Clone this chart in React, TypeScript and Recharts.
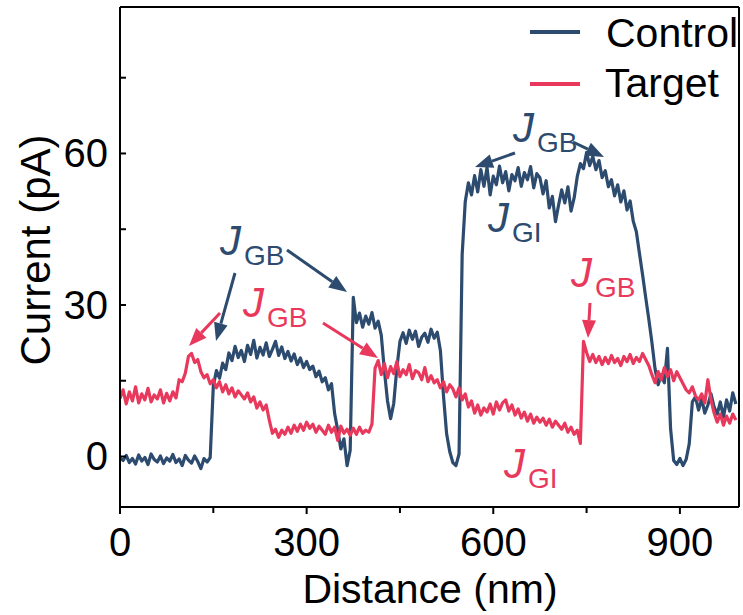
import React from "react";
import { LineChart, Line, XAxis, YAxis } from "recharts";

// sampling positions along the scan line, in nm (5 nm step)
const distance: number[] = Array.from({ length: 199 }, (_, i) => i * 5);

const control: number[] = [
  -0.3, -0.8, 0.2, -1.2, -0.4, -1.5, 0.3, -0.9, -0.2, -1.6,
  0.5, -0.6, -1.1, 0.1, -1.4, -0.3, -0.9, 0.4, -1.2, -0.5,
  -1.8, 0.2, -0.7, -1.3, 0.1, -1.0, -2.4, -0.4, -1.1, -0.2,
  14, 17, 15.5, 18.5, 17.2, 20.5, 19, 21.8, 19.6, 21,
  18.8, 22, 20.2, 23, 19.5, 21.6, 20.1, 22.5, 19.8, 21.2,
  22.8, 20, 21.7, 19.4, 20.8, 18.9, 20.3, 18.2, 19.5, 17.6,
  18.8, 17.2, 17.9, 15.8, 16.9, 14.8, 15.6, 13.2, 14.4, 8.5,
  5.2, 1.5, 3.5, -1.8, 1.2, 31.5, 26.5, 28.4, 25.6, 27.8,
  26.2, 28.5, 25.4, 26.8, 24, 17, 11, 7.5, 10.5, 17.5,
  22.8, 24.5, 22.4, 25, 23.2, 24.8, 21.8, 23.6, 24.4, 22.6,
  25.2, 23.4, 24.6, 21, 12, 4.5, 1, -1.2, -1.8, 0.5,
  40, 50.5, 54.2, 51.8, 55.6, 52.4, 56.8, 53.5, 57.2, 51.8,
  55.5, 53.8, 57.5, 54.2, 56.4, 52.6, 55.8, 54.6, 57.2, 53.5,
  56.2, 54.8, 57.4, 53.2, 56, 55.2, 52, 54.6, 49.2, 51.5,
  46.5, 49.8, 52.8, 50.2, 53.4, 48.6, 51.2, 55.4, 58, 57,
  60.2, 57.6, 59.4, 56.8, 58.6, 55.2, 56.6, 53.4, 54.8, 51.6,
  53.8, 50.4, 52.6, 48.8, 50.6, 46.6, 44.5, 40.2, 36, 31.5,
  27.2, 22.6, 17.4, 14.2, 16.2, 14.6, 21.4, 5.5, -0.8, -1.6,
  -0.4, -1.8, -0.6, 2.5, 10.8, 11.8, 9.2, 11.4, 8.6, 10.2,
  12.4, 9.8, 8.4, 10.8, 7.8, 11.2, 9, 12.6, 10.4,
];

const target: number[] = [
  11.5, 13.2, 10.4, 12.8, 11, 13.8, 10.6, 12.4, 11.2, 13.5,
  10.8, 12.2, 11.4, 13.2, 10.6, 12.5, 11, 12.8, 11.6, 15.2,
  14.8, 16.5, 19.8, 20.4, 18.6, 19.2, 16.8, 15.6, 16.2, 14.4,
  15.2, 13.6, 14.8, 12.8, 14.2, 12.4, 13.6, 11.8, 13, 12.2,
  11.4, 12.6, 10.8, 11.8, 9.6, 10.8, 9.2, 10.2, 7.2, 4.6,
  5.4, 3.8, 5.2, 4.4, 5.8, 4.6, 6.2, 5, 6.4, 5.2,
  6.8, 5.6, 6.4, 4.8, 6, 5.2, 4.4, 6.2, 4.8, 5.8,
  3.2, 6, 4.6, 5.4, 4.2, 5.6, 4.4, 5.8, 4.6, 5.2,
  4.8, 6.4, 17.5, 19, 16.2, 18.4, 15.6, 17.8, 16.4, 18.8,
  15.8, 17.2, 16.2, 18.2, 15.4, 17, 16.6, 15.2, 17.6, 14.8,
  16, 14.6, 15.2, 13.6, 14.8, 12.8, 14.2, 13.4, 11.8, 13.6,
  11.2, 12.4, 9.8, 11, 8.6, 10.2, 8.2, 9.6, 8.8, 10.4,
  8.4, 10.8, 9.2, 10.6, 11.2, 9, 10.2, 8.2, 9.4, 7.6,
  8.8, 7, 8.4, 6.6, 7.8, 6.8, 7.6, 6.2, 7.4, 5.8,
  7, 6.2, 5.4, 6.6, 4.8, 5.8, 4.4, 5.2, 2.6, 22.8,
  20.6, 18.8, 20.2, 18.6, 19.8, 18.2, 19.6, 18.4, 20, 18.6,
  19.4, 18, 19.8, 18.8, 20.2, 18.4, 19.6, 18.8, 20.4, 19.2,
  18, 16.2, 14.6, 16.8, 15.2, 17.6, 15.8, 17.2, 15, 16.8,
  15.6, 14.4, 13.2, 12.6, 13.8, 12, 11.2, 12.4, 10.6, 15.2,
  11.2, 8.6, 6.8, 8.4, 6.2, 8, 6.6, 8.4, 7.2,
];

const xTicks = [0, 150, 300, 450, 600, 750, 900];
const yTicks = [0, 15, 30, 45, 60, 75];

const BLUE = "#2c4b6e";
const RED = "#e8395c";
const FONT = "'Liberation Sans', Arial, sans-serif";

const rows = distance.map((d, i) => ({ distance: d, control: control[i], target: target[i] }));

// plot box in page pixels
const LEFT = 120;
const RIGHT = 739;
const TOP = 7;
const BOTTOM = 507;

const XTick = (props: any) => {
  const { x, payload } = props;
  const major = payload.value % 300 === 0;
  return (
    <g>
      <line x1={x} y1={BOTTOM} x2={x} y2={BOTTOM + (major ? 7 : 6)} stroke="#000" strokeWidth={2} />
      {major && (
        <text x={x} y={556} textAnchor="middle" fontSize={40} fontFamily={FONT} fill="#000">
          {payload.value}
        </text>
      )}
    </g>
  );
};

const YTick = (props: any) => {
  const { y, payload } = props;
  const major = payload.value % 30 === 0;
  return (
    <g>
      <line x1={LEFT} y1={y} x2={LEFT + 6} y2={y} stroke="#000" strokeWidth={2} />
      {major && (
        <text x={108} y={y + 14} textAnchor="end" fontSize={40} fontFamily={FONT} fill="#000">
          {payload.value}
        </text>
      )}
    </g>
  );
};

function Arrow({ x1, y1, x2, y2, color }: { x1: number; y1: number; x2: number; y2: number; color: string }) {
  const ang = Math.atan2(y2 - y1, x2 - x1);
  const len = 18;
  const half = 7;
  const bx = x2 - len * Math.cos(ang);
  const by = y2 - len * Math.sin(ang);
  const px = -Math.sin(ang) * half;
  const py = Math.cos(ang) * half;
  return (
    <g>
      <line x1={x1} y1={y1} x2={bx} y2={by} stroke={color} strokeWidth={3} />
      <polygon points={`${x2},${y2} ${bx + px},${by + py} ${bx - px},${by - py}`} fill={color} />
    </g>
  );
}

function Sub({ x, y, sub, color }: { x: number; y: number; sub: string; color: string }) {
  return (
    <g fill={color} fontFamily={FONT}>
      <text x={x} y={y} fontSize={42} fontStyle="italic">J</text>
      <text x={x + 24} y={y + 10} fontSize={28}>{sub}</text>
    </g>
  );
}

export default function App() {
  return (
    <div style={{ position: "absolute", left: 0, top: 0, width: 743, height: 615, background: "#fff" }}>
      <LineChart width={743} height={615} data={rows} margin={{ top: TOP, right: 743 - RIGHT, left: 0, bottom: 0 }}>
        <XAxis
          dataKey="distance"
          type="number"
          domain={[0, 995]}
          ticks={xTicks}
          tick={<XTick />}
          tickLine={false}
          axisLine={{ stroke: "#000", strokeWidth: 2 }}
          height={615 - BOTTOM}
          allowDataOverflow
        />
        <YAxis
          type="number"
          domain={[-10, 89]}
          ticks={yTicks}
          tick={<YTick />}
          tickLine={false}
          axisLine={{ stroke: "#000", strokeWidth: 2 }}
          width={LEFT}
          allowDataOverflow
        />
        <Line dataKey="control" stroke={BLUE} strokeWidth={3.2} strokeLinejoin="round" dot={false} isAnimationActive={false} />
        <Line dataKey="target" stroke={RED} strokeWidth={3.2} strokeLinejoin="round" dot={false} isAnimationActive={false} />
      </LineChart>
      <svg
        width={743}
        height={615}
        style={{ position: "absolute", left: 0, top: 0, pointerEvents: "none" }}
      >
        {/* frame: top and right edges */}
        <line x1={LEFT} y1={TOP} x2={RIGHT} y2={TOP} stroke="#000" strokeWidth={2} />
        <line x1={RIGHT} y1={TOP} x2={RIGHT} y2={BOTTOM} stroke="#000" strokeWidth={2} />

        {/* axis titles */}
        <text x={430} y={603} textAnchor="middle" fontSize={41} fontFamily={FONT} fill="#000">
          Distance (nm)
        </text>
        <text
          x={50}
          y={250}
          textAnchor="middle"
          fontSize={42}
          fontFamily={FONT}
          fill="#000"
          transform="rotate(-90 50 250)"
        >
          Current (pA)
        </text>

        {/* legend */}
        <line x1={530} y1={32} x2={580} y2={32} stroke={BLUE} strokeWidth={4} />
        <text x={606} y={47} fontSize={41} fontFamily={FONT} fill="#000">Control</text>
        <line x1={530} y1={84} x2={580} y2={84} stroke={RED} strokeWidth={4} />
        <text x={605} y={97} fontSize={41} fontFamily={FONT} fill="#000">Target</text>

        {/* grain boundary / grain interior labels */}
        <Sub x={220} y={255} sub="GB" color={BLUE} />
        <Arrow x1={287} y1={250} x2={347} y2={292} color={BLUE} />
        <Arrow x1={235} y1={273} x2={216} y2={341} color={BLUE} />

        <Sub x={243} y={317} sub="GB" color={RED} />
        <Arrow x1={220} y1={313} x2={189} y2={346} color={RED} />
        <Arrow x1={323} y1={323} x2={378} y2={358} color={RED} />

        <Sub x={513} y={142} sub="GB" color={BLUE} />
        <Arrow x1={515} y1={153} x2={475} y2={167} color={BLUE} />
        <Arrow x1={573} y1={142} x2={604} y2={157} color={BLUE} />

        <Sub x={488} y={232} sub="GI" color={BLUE} />

        <Sub x={571} y={287} sub="GB" color={RED} />
        <Arrow x1={590} y1={303} x2={588} y2={338} color={RED} />

        <Sub x={504} y={478} sub="GI" color={RED} />
      </svg>
    </div>
  );
}
